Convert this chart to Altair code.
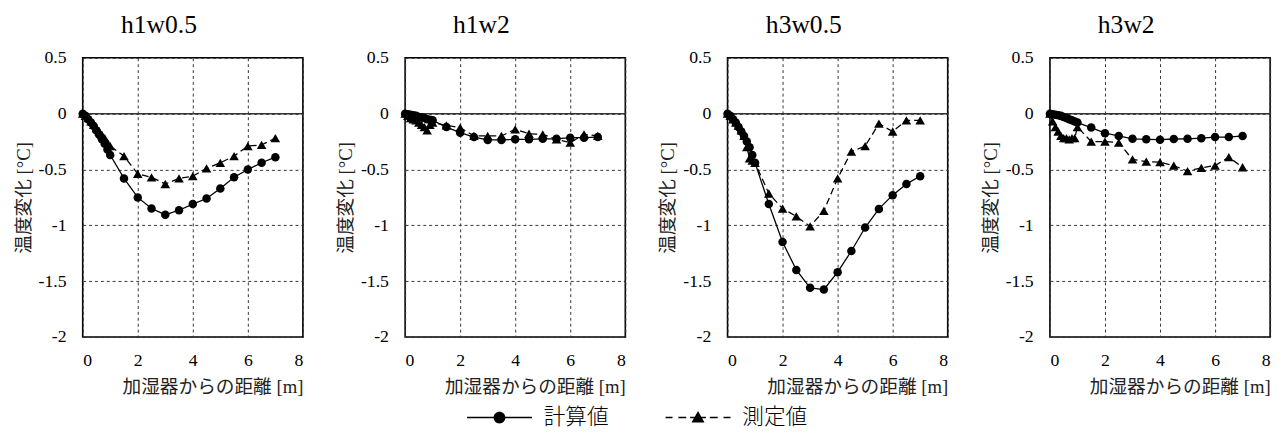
import altair as alt
import pandas as pd

# ---------------- data ----------------
panel_titles = ["h1w0.5", "h1w2", "h3w0.5", "h3w2"]
series_names = ["計算値", "測定値"]

x_vals = [0, 0.1, 0.2, 0.3, 0.4, 0.5, 0.6, 0.7, 0.8, 0.9, 1.0,
          1.5, 2.0, 2.5, 3.0, 3.5, 4.0, 4.5, 5.0, 5.5, 6.0, 6.5, 7.0]

calc_h1w05 = [0, -0.02, -0.05, -0.08, -0.11, -0.15, -0.19, -0.23, -0.27, -0.32, -0.37,
              -0.58, -0.75, -0.85, -0.905, -0.865, -0.81, -0.76, -0.67, -0.57, -0.5, -0.44, -0.39]
meas_h1w05 = [0, -0.02, -0.04, -0.07, -0.1, -0.13, -0.16, -0.19, -0.22, -0.26, -0.29,
              -0.38, -0.54, -0.57, -0.63, -0.58, -0.56, -0.49, -0.44, -0.38, -0.29, -0.28, -0.22]

calc_h1w2 = [0, -0.005, -0.01, -0.015, -0.02, -0.03, -0.035, -0.04, -0.05, -0.055, -0.06,
             -0.12, -0.17, -0.21, -0.235, -0.235, -0.23, -0.23, -0.225, -0.225, -0.215, -0.215, -0.21]
meas_h1w2 = [0, -0.02, -0.04, -0.05, -0.06, -0.08, -0.1, -0.12, -0.15, -0.1, -0.08,
             -0.105, -0.125, -0.2, -0.2, -0.2, -0.14, -0.18, -0.185, -0.23, -0.26, -0.185, -0.2]

calc_h3w05 = [0, -0.02, -0.05, -0.08, -0.12, -0.16, -0.2, -0.25, -0.3, -0.37, -0.44,
              -0.81, -1.15, -1.4, -1.56, -1.575, -1.42, -1.23, -1.02, -0.853, -0.73, -0.63, -0.56]
meas_h3w05 = [0, -0.02, -0.05, -0.08, -0.11, -0.15, -0.2, -0.3, -0.4, -0.42, -0.44,
              -0.715, -0.85, -0.92, -1.01, -0.87, -0.58, -0.34, -0.29, -0.09, -0.16, -0.06, -0.06]

calc_h3w2 = [0, -0.005, -0.01, -0.015, -0.02, -0.03, -0.04, -0.05, -0.06, -0.07, -0.08,
             -0.125, -0.175, -0.2, -0.225, -0.23, -0.233, -0.227, -0.225, -0.22, -0.21, -0.21, -0.2]
meas_h3w2 = [0, -0.07, -0.12, -0.16, -0.2, -0.22, -0.22, -0.23, -0.22, -0.22, -0.12,
             -0.25, -0.25, -0.26, -0.41, -0.43, -0.435, -0.465, -0.515, -0.485, -0.465, -0.39, -0.48]

calc_all = [calc_h1w05, calc_h1w2, calc_h3w05, calc_h3w2]
meas_all = [meas_h1w05, meas_h1w2, meas_h3w05, meas_h3w2]

x_ticks = [0, 2, 4, 6, 8]
y_ticks = [0.5, 0, -0.5, -1, -1.5, -2]
zero_ref = [0]

# legend symbols (custom SVG paths, fill-only shapes)
sym_calc = ("M-3,-0.065H3V0.065H-3Z"
            "M-0.55,0A0.55,0.55,0,1,1,0.55,0A0.55,0.55,0,1,1,-0.55,0Z")
sym_meas = ("M-3,-0.065H-2.36V0.065H-3Z"
            "M-1.82,-0.065H-1.09V0.065H-1.82Z"
            "M-0.73,-0.065H0.73V0.065H-0.73Z"
            "M1.09,-0.065H1.82V0.065H1.09Z"
            "M2.36,-0.065H3V0.065H2.36Z"
            "M0,-0.6L0.6,0.45L-0.6,0.45Z")

SERIF = "Liberation Serif"
MIXED = "Liberation Serif, Noto Sans CJK JP"
PW, PH = 224, 284


def panel(title, calc, meas):
    n = len(x_vals)
    df = pd.DataFrame({
        "x": x_vals * 2,
        "y": calc + meas,
        "series": [series_names[0]] * n + [series_names[1]] * n,
    })
    base = alt.Chart(df)
    xenc = alt.X("x:Q", scale=alt.Scale(domain=[0, 8], nice=False),
                 axis=alt.Axis(values=x_ticks, title="加湿器からの距離 [m]",
                               titleAnchor="end", labelPadding=15, titlePadding=9))
    yenc = alt.Y("y:Q", scale=alt.Scale(domain=[-2, 0.5], nice=False),
                 axis=alt.Axis(values=y_ticks, title="温度変化 [°C]",
                               labelPadding=17, titlePadding=5))

    zero = alt.Chart(pd.DataFrame({"z": zero_ref})).mark_rule(
        color="#333333", strokeWidth=1.5).encode(y=alt.Y("z:Q", scale=alt.Scale(domain=[-2, 0.5])))

    calc_line = base.transform_filter(alt.datum.series == series_names[0]).mark_line(
        color="black", strokeWidth=1.3).encode(x=xenc, y=yenc)
    meas_line = base.transform_filter(alt.datum.series == series_names[1]).mark_line(
        color="black", strokeWidth=1.3, strokeDash=[7, 4]).encode(x=xenc, y=yenc)
    calc_pts = base.transform_filter(alt.datum.series == series_names[0]).mark_point(
        shape="circle", filled=True, color="black", size=75, opacity=1).encode(x=xenc, y=yenc)
    meas_pts = base.transform_filter(alt.datum.series == series_names[1]).mark_point(
        shape="triangle-up", filled=True, color="black", size=95, opacity=1).encode(x=xenc, y=yenc)
    legend_layer = base.mark_point(filled=True, color="black", opacity=0).encode(
        x=xenc, y=yenc,
        shape=alt.Shape("series:N",
                        scale=alt.Scale(domain=series_names, range=[sym_calc, sym_meas]),
                        legend=alt.Legend(
                            title=None, orient="none", direction="horizontal",
                            legendX=412, legendY=354, padding=0,
                            symbolSize=484, symbolOpacity=1,
                            symbolFillColor="black",
                            labelFont="Noto Sans CJK JP", labelFontSize=22,
                            labelFontWeight=300, labelColor="black",
                            labelOffset=33, columnPadding=54, labelLimit=200)))

    return alt.layer(zero, calc_line, meas_line, calc_pts, meas_pts, legend_layer).properties(
        width=PW, height=PH,
        title=alt.Title(title, font=SERIF, fontSize=26, fontWeight="normal",
                        color="black", anchor="middle", frame="bounds", offset=11))


panels = [panel(t, c, m) for t, c, m in zip(panel_titles, calc_all, meas_all)]

chart = alt.hconcat(*panels, spacing=31).resolve_scale(shape="shared").resolve_legend(
    shape="shared").properties(
    padding={"left": 5, "top": 0, "right": 5, "bottom": 0}
).configure_view(stroke="black", strokeWidth=1.6).configure_axis(
    grid=True, gridColor="#333333", gridDash=[3, 3], gridWidth=1,
    ticks=False, domain=False,
    labelFont=SERIF, labelFontSize=18, labelColor="black",
    titleFont=MIXED, titleFontSize=19, titleFontWeight="normal", titleColor="#222222",
    labelExpr="'' + datum.value",
)

chart.save("out.html", embed_options={"renderer": "svg", "actions": False})
